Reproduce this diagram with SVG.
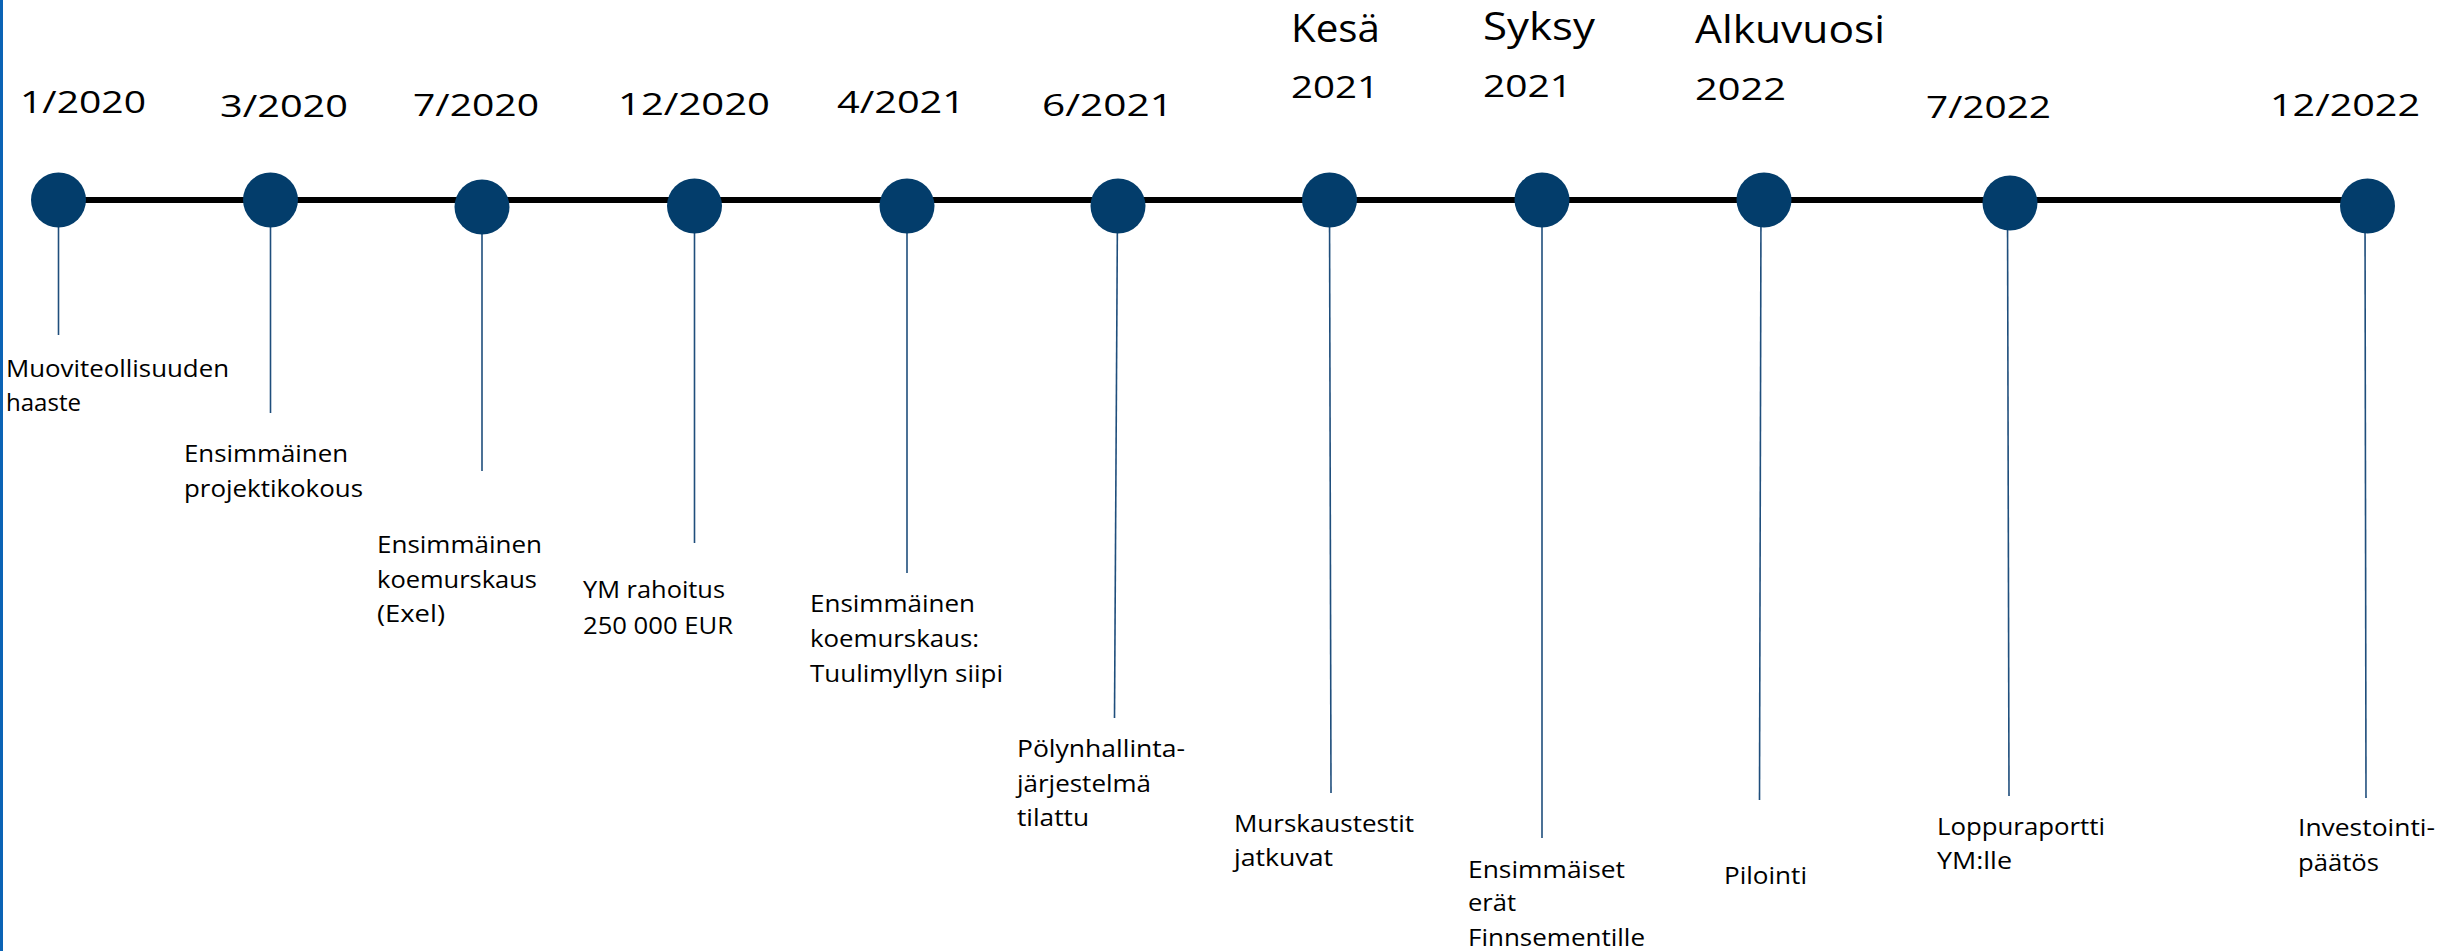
<svg xmlns="http://www.w3.org/2000/svg" width="2463" height="951" viewBox="0 0 2463 951">
<style>
.dot{fill:#033d6b}
.stem{stroke:#1f4e7c;stroke-width:1.6;fill:none}
.axis{stroke:#000;stroke-width:6;fill:none}
.date{font-family:"Open Sans","Noto Sans",sans-serif;font-size:31px;fill:#000}
.season{font-family:"Open Sans","Noto Sans",sans-serif;font-size:39px;fill:#000}
.lbl{font-family:"Open Sans","Noto Sans",sans-serif;font-size:24.5px;fill:#000}
</style>
<rect x="0" y="0" width="3" height="951" fill="#0b63b5"/>
<g id="connectors">
<line class="axis" x1="58" y1="200" x2="2367" y2="200"/>
<line class="stem" x1="58.5" y1="200" x2="58.5" y2="335"/>
<line class="stem" x1="270.5" y1="200" x2="270.5" y2="413"/>
<line class="stem" x1="482" y1="207" x2="482" y2="471"/>
<line class="stem" x1="694.5" y1="206" x2="694.5" y2="543"/>
<line class="stem" x1="907" y1="206" x2="907" y2="573"/>
<line class="stem" x1="1117.5" y1="206" x2="1114.5" y2="718"/>
<line class="stem" x1="1329.5" y1="200" x2="1331" y2="793"/>
<line class="stem" x1="1542" y1="200" x2="1542" y2="838"/>
<line class="stem" x1="1761" y1="200" x2="1759.5" y2="800"/>
<line class="stem" x1="2007.5" y1="203" x2="2009" y2="796"/>
<line class="stem" x1="2365" y1="206" x2="2366" y2="798"/>
</g>
<g id="n1"><circle class="dot" cx="58.5" cy="200" r="27.5"/>
<text class="date" x="20" y="113" textLength="126" lengthAdjust="spacingAndGlyphs">1/2020</text>
<text class="lbl" x="6" y="377" textLength="223" lengthAdjust="spacingAndGlyphs">Muoviteollisuuden</text>
<text class="lbl" x="6" y="411" textLength="75" lengthAdjust="spacingAndGlyphs">haaste</text></g>
<g id="n2"><circle class="dot" cx="270.5" cy="200" r="27.5"/>
<text class="date" x="220" y="116.5" textLength="128" lengthAdjust="spacingAndGlyphs">3/2020</text>
<text class="lbl" x="184" y="462" textLength="164" lengthAdjust="spacingAndGlyphs">Ensimmäinen</text>
<text class="lbl" x="184" y="497" textLength="179" lengthAdjust="spacingAndGlyphs">projektikokous</text></g>
<g id="n3"><circle class="dot" cx="482" cy="207" r="27.5"/>
<text class="date" x="413" y="116" textLength="126" lengthAdjust="spacingAndGlyphs">7/2020</text>
<text class="lbl" x="377" y="553" textLength="165" lengthAdjust="spacingAndGlyphs">Ensimmäinen</text>
<text class="lbl" x="377" y="588" textLength="160" lengthAdjust="spacingAndGlyphs">koemurskaus</text>
<text class="lbl" x="377" y="622" textLength="68" lengthAdjust="spacingAndGlyphs">(Exel)</text></g>
<g id="n4"><circle class="dot" cx="694.5" cy="206" r="27.5"/>
<text class="date" x="618" y="115" textLength="152" lengthAdjust="spacingAndGlyphs">12/2020</text>
<text class="lbl" x="583" y="598" textLength="142" lengthAdjust="spacingAndGlyphs">YM rahoitus</text>
<text class="lbl" x="583" y="634" textLength="150" lengthAdjust="spacingAndGlyphs">250 000 EUR</text></g>
<g id="n5"><circle class="dot" cx="907" cy="206" r="27.5"/>
<text class="date" x="837" y="113" textLength="128" lengthAdjust="spacingAndGlyphs">4/2021</text>
<text class="lbl" x="810" y="612" textLength="165" lengthAdjust="spacingAndGlyphs">Ensimmäinen</text>
<text class="lbl" x="810" y="647" textLength="169" lengthAdjust="spacingAndGlyphs">koemurskaus:</text>
<text class="lbl" x="810" y="681.5" textLength="193" lengthAdjust="spacingAndGlyphs">Tuulimyllyn siipi</text></g>
<g id="n6"><circle class="dot" cx="1118" cy="206" r="27.5"/>
<text class="date" x="1042" y="116" textLength="131" lengthAdjust="spacingAndGlyphs">6/2021</text>
<text class="lbl" x="1017" y="756.5" textLength="168" lengthAdjust="spacingAndGlyphs">Pölynhallinta-</text>
<text class="lbl" x="1017" y="791.5" textLength="134" lengthAdjust="spacingAndGlyphs">järjestelmä</text>
<text class="lbl" x="1017" y="826" textLength="72" lengthAdjust="spacingAndGlyphs">tilattu</text></g>
<g id="n7"><circle class="dot" cx="1329.5" cy="200" r="27.5"/>
<text class="season" x="1291" y="41.7" textLength="89" lengthAdjust="spacingAndGlyphs">Kesä</text>
<text class="date" x="1291" y="98.3" textLength="88" lengthAdjust="spacingAndGlyphs">2021</text>
<text class="lbl" x="1234" y="832" textLength="180" lengthAdjust="spacingAndGlyphs">Murskaustestit</text>
<text class="lbl" x="1234" y="865.5" textLength="99" lengthAdjust="spacingAndGlyphs">jatkuvat</text></g>
<g id="n8"><circle class="dot" cx="1542" cy="200" r="27.5"/>
<text class="season" x="1483" y="40" textLength="112" lengthAdjust="spacingAndGlyphs">Syksy</text>
<text class="date" x="1483" y="96.7" textLength="89" lengthAdjust="spacingAndGlyphs">2021</text>
<text class="lbl" x="1468" y="877.5" textLength="157" lengthAdjust="spacingAndGlyphs">Ensimmäiset</text>
<text class="lbl" x="1468" y="911" textLength="48" lengthAdjust="spacingAndGlyphs">erät</text>
<text class="lbl" x="1468" y="946" textLength="177" lengthAdjust="spacingAndGlyphs">Finnsementille</text></g>
<g id="n9"><circle class="dot" cx="1764" cy="200" r="27.5"/>
<text class="season" x="1695" y="43.3" textLength="190" lengthAdjust="spacingAndGlyphs">Alkuvuosi</text>
<text class="date" x="1695" y="100" textLength="91" lengthAdjust="spacingAndGlyphs">2022</text>
<text class="lbl" x="1724" y="884" textLength="83" lengthAdjust="spacingAndGlyphs">Pilointi</text></g>
<g id="n10"><circle class="dot" cx="2010" cy="203" r="27.5"/>
<text class="date" x="1926" y="118" textLength="125" lengthAdjust="spacingAndGlyphs">7/2022</text>
<text class="lbl" x="1937" y="835" textLength="168" lengthAdjust="spacingAndGlyphs">Loppuraportti</text>
<text class="lbl" x="1937" y="869.3" textLength="75" lengthAdjust="spacingAndGlyphs">YM:lle</text></g>
<g id="n11"><circle class="dot" cx="2367.5" cy="206" r="27.5"/>
<text class="date" x="2270" y="116" textLength="150" lengthAdjust="spacingAndGlyphs">12/2022</text>
<text class="lbl" x="2298" y="836.3" textLength="137" lengthAdjust="spacingAndGlyphs">Investointi-</text>
<text class="lbl" x="2298" y="870.5" textLength="81" lengthAdjust="spacingAndGlyphs">päätös</text></g>
</svg>
